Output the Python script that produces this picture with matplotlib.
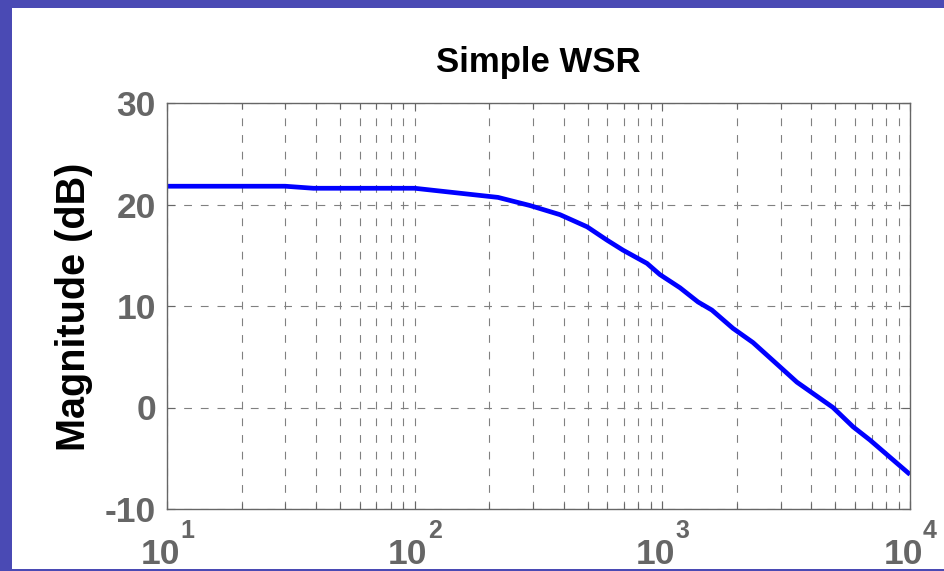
import matplotlib
matplotlib.use("Agg")
import matplotlib.pyplot as plt
import matplotlib.transforms as mtransforms
from matplotlib.patches import Rectangle
from matplotlib.ticker import LogLocator, NullFormatter

plt.rcParams['font.family'] = ['Liberation Sans', 'DejaVu Sans']

# frequency response samples (Hz, dB)
freq = [10, 30, 39, 100, 217, 292, 386, 497, 597, 694, 867, 977, 1178,
        1393, 1585, 1928, 2323, 2987, 3493, 4887, 5889, 6889, 8300, 10000]
mag = [21.8, 21.8, 21.6, 21.6, 20.7, 19.9, 19.0, 17.8, 16.5, 15.5, 14.2,
       13.1, 11.8, 10.4, 9.6, 7.8, 6.4, 4.0, 2.5, 0.0, -1.9, -3.2, -4.9, -6.6]

y_ticks = [-10, 0, 10, 20, 30]
x_decades = [1, 2, 3, 4]

label_grey = '#666666'
frame_blue = '#4a4ab4'

fig = plt.figure(figsize=(9.44, 5.71), dpi=100)
ax = fig.add_axes([167 / 944, 1 - 509 / 571, 743 / 944, 406 / 571])

ax.plot(freq, mag, color='#0000ff', linewidth=3.4, solid_capstyle='butt')

ax.set_xscale('log')
ax.set_xlim(10, 1e4)
ax.set_ylim(-10, 30)
ax.set_yticks(y_ticks)
ax.set_yticklabels([str(v) for v in y_ticks], fontsize=25.5, fontweight='bold',
                   color=label_grey)
ax.xaxis.set_major_locator(LogLocator(base=10))
ax.xaxis.set_minor_locator(LogLocator(base=10, subs=range(2, 10)))
ax.xaxis.set_major_formatter(NullFormatter())
ax.xaxis.set_minor_formatter(NullFormatter())

grid_kw = dict(color='#808080', linewidth=0.8, linestyle=(0, (7, 8)))
ax.grid(True, which='major', axis='both', **grid_kw)
ax.grid(True, which='minor', axis='x', **grid_kw)

ax.tick_params(which='both', direction='in', top=True, right=True,
               color='#666666', width=0.8)
ax.tick_params(which='major', length=6, pad=8)
ax.tick_params(which='minor', length=4)
for sp in ax.spines.values():
    sp.set_color('#666666')
    sp.set_linewidth(1.0)

# decade labels written as 10 with a raised exponent
for d in x_decades:
    x = 10.0 ** d
    base_tr = mtransforms.blended_transform_factory(ax.transData, ax.transAxes)
    shift = mtransforms.ScaledTranslation(13 / 100, 0, fig.dpi_scale_trans)
    ax.text(x, -0.136, '10', transform=base_tr + shift, ha='right',
            va='baseline', fontsize=25.5, fontweight='bold', color=label_grey,
            clip_on=False)
    ax.text(x, -0.071, str(d), transform=base_tr + shift, ha='left',
            va='baseline', fontsize=18, fontweight='bold', color=label_grey,
            clip_on=False)

ax.text(0.5, 1.0764, 'Simple WSR', transform=ax.transAxes, ha='center',
        va='baseline', fontsize=25, fontweight='bold', color='black')
fig.text(74 / 944, 1 - 307 / 571, 'Magnitude (dB)', rotation=90,
         ha='center', va='center', fontsize=28.5, fontweight='bold',
         color='black')

# slide frame along the left, top and bottom edges
for rect in [(0, 0, 12 / 944, 1), (0, 1 - 8 / 571, 1, 8 / 571),
             (0, 0, 1, 2 / 571)]:
    fig.patches.append(Rectangle(rect[:2], rect[2], rect[3],
                                 transform=fig.transFigure,
                                 facecolor=frame_blue, edgecolor='none',
                                 zorder=10))

fig.savefig('out.png', dpi=100)
